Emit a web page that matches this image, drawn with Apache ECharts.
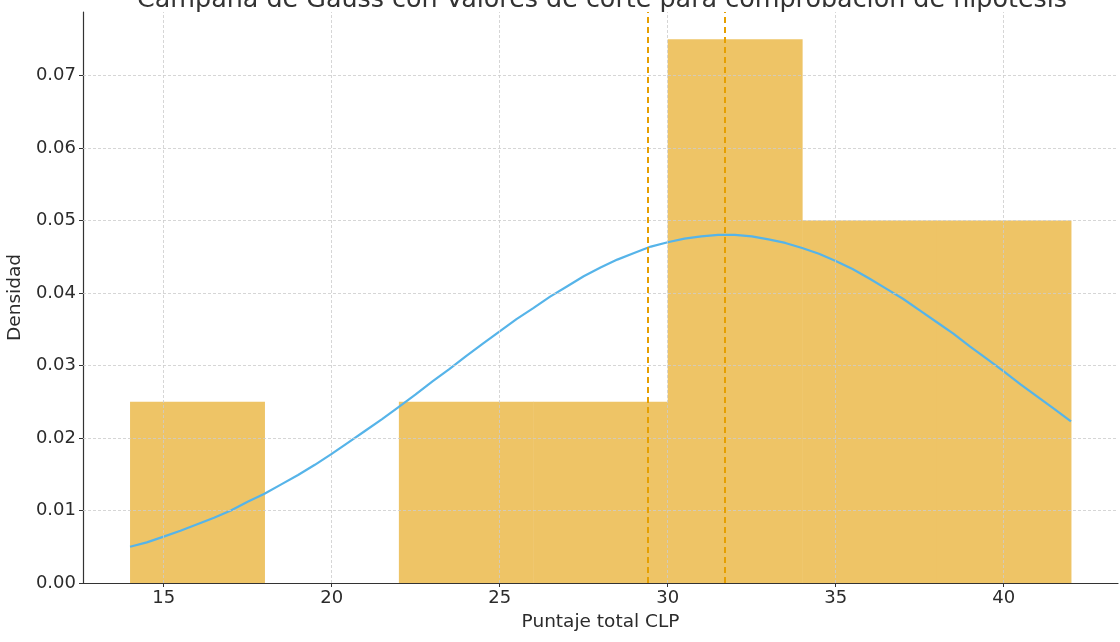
<!DOCTYPE html>
<html>
<head>
<meta charset="utf-8">
<script src="https://cdn.jsdelivr.net/npm/echarts@6/dist/echarts.min.js"></script>
<style>
html,body{margin:0;padding:0;background:#fff;}
#chart{width:1120px;height:642px;}
</style>
</head>
<body>
<div id="chart"></div>
<script>
// Histogram bins (edges) and densities
const binStart = [14, 18, 22, 26, 30, 34, 38];
const binEnd   = [18, 22, 26, 30, 34, 38, 42];
const density  = [0.025, 0, 0.025, 0.025, 0.075, 0.05, 0.05];

// Bell curve points
const curveX = [14,14.5,15,15.5,16,16.5,17,17.5,18,18.5,19,19.5,20,20.5,21,21.5,22,22.5,23,23.5,24,24.5,25,25.5,26,26.5,27,27.5,28,28.5,29,29.5,30,30.5,31,31.5,32,32.5,33,33.5,34,34.5,35,35.5,36,36.5,37,37.5,38,38.5,39,39.5,40,40.5,41,41.5,42];
const curveY = [0.0050,0.0056,0.0064,0.0072,0.0081,0.0090,0.0100,0.0112,0.0123,0.0136,0.0149,0.0163,0.0178,0.0194,0.0210,0.0226,0.0243,0.0260,0.0278,0.0295,0.0313,0.0330,0.0347,0.0364,0.0379,0.0395,0.0409,0.0423,0.0435,0.0446,0.0455,0.0464,0.0470,0.0475,0.0478,0.0480,0.0480,0.0478,0.0474,0.0469,0.0462,0.0454,0.0444,0.0433,0.0420,0.0406,0.0392,0.0376,0.0360,0.0344,0.0326,0.0309,0.0292,0.0274,0.0257,0.0240,0.0223];

// Cut-off values
const cutoffs = [29.4, 31.7];

// Tick labels
const xTicks = [15, 20, 25, 30, 35, 40];
const yTicks = [0, 0.01, 0.02, 0.03, 0.04, 0.05, 0.06, 0.07];

const FONT = 'DejaVu Sans';
const chart = echarts.init(document.getElementById('chart'), null, {renderer: 'canvas'});

const histData = binStart.map((s, i) => [s, binEnd[i], density[i]]);
const curveData = curveX.map((x, i) => [x, curveY[i]]);

const gridLineStyle = {color: '#cccccc', width: 0.8, type: [3, 2]};
const gridMarks = xTicks.map(v => ({xAxis: v}))
  .concat(yTicks.filter(v => v > 0).map(v => ({yAxis: v})));

chart.setOption({
  animation: false,
  backgroundColor: '#ffffff',
  title: {
    text: 'Campana de Gauss con Valores de corte para comprobación de hipótesis',
    left: 132,
    top: -17,
    textStyle: {fontFamily: FONT, fontSize: 25.4, fontWeight: 'normal', color: '#333333'}
  },
  grid: {left: 83, right: 2, top: 12, bottom: 59, containLabel: false, outerBoundsMode: 'none'},
  xAxis: {
    type: 'value',
    min: 12.6,
    max: 43.4,
    name: 'Puntaje total CLP',
    nameLocation: 'middle',
    nameGap: 30,
    nameTextStyle: {fontFamily: FONT, fontSize: 18.5, color: '#2b2b2b'},
    axisLine: {show: true, onZero: false, lineStyle: {color: '#333333', width: 1.2}},
    axisTick: {show: true, customValues: xTicks, length: 4, lineStyle: {color: '#333333'}},
    axisLabel: {customValues: xTicks, fontFamily: FONT, fontSize: 18, color: '#2b2b2b', margin: 6},
    splitLine: {show: false}
  },
  yAxis: {
    type: 'value',
    min: 0,
    max: 0.07875,
    name: 'Densidad',
    nameLocation: 'middle',
    nameGap: 42,
    nameTextStyle: {fontFamily: FONT, fontSize: 18.5, color: '#2b2b2b'},
    axisLine: {show: true, lineStyle: {color: '#333333', width: 1.2}},
    axisTick: {show: true, customValues: yTicks, length: 4, lineStyle: {color: '#333333'}},
    axisLabel: {customValues: yTicks, fontFamily: FONT, fontSize: 18, color: '#2b2b2b', margin: 7,
      formatter: v => v.toFixed(2)},
    splitLine: {show: false}
  },
  series: [
    {
      type: 'custom',
      z: 1,
      silent: true,
      data: histData,
      encode: {x: [0, 1], y: 2},
      renderItem: function (params, api) {
        const p0 = api.coord([api.value(0), api.value(2)]);
        const p1 = api.coord([api.value(1), 0]);
        return {
          type: 'rect',
          shape: {x: p0[0], y: p0[1], width: p1[0] - p0[0] + 0.5, height: p1[1] - p0[1]},
          style: {fill: '#EEC466'}
        };
      }
    },
    {
      type: 'line',
      z: 2,
      data: [],
      silent: true,
      markLine: {
        silent: true,
        symbol: ['none', 'none'],
        label: {show: false},
        lineStyle: gridLineStyle,
        animation: false,
        data: gridMarks
      }
    },
    {
      type: 'line',
      z: 3,
      data: curveData,
      smooth: false,
      showSymbol: false,
      silent: true,
      lineStyle: {color: '#56B4E9', width: 2.2, join: 'round'}
    },
    {
      type: 'line',
      z: 4,
      data: [],
      silent: true,
      markLine: {
        silent: true,
        symbol: ['none', 'none'],
        label: {show: false},
        lineStyle: {color: '#E69F00', width: 2, type: [6, 4]},
        animation: false,
        data: cutoffs.map(v => ({xAxis: v}))
      }
    }
  ]
});
</script>
</body>
</html>
